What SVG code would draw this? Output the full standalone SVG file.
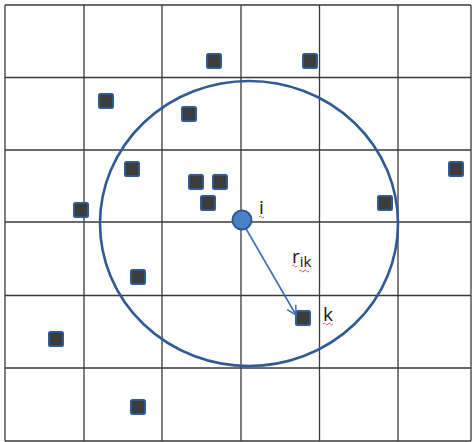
<svg xmlns="http://www.w3.org/2000/svg" width="474" height="442" viewBox="0 0 474 442">
<defs>
<style>
.grid line{stroke:#3a3a3a;stroke-width:1.3}
.pt rect{fill:#3c3c3c;stroke:#2f5a94;stroke-width:2}
.lbl{font-family:"Open Sans","Liberation Sans",sans-serif;fill:#111}
.sq{fill:none;stroke:#e03030;stroke-width:0.8}
</style>
<marker id="ah" markerWidth="12" markerHeight="12" refX="10" refY="6" orient="auto" markerUnits="userSpaceOnUse">
<path d="M1,1 L10,6 L1,11" fill="none" stroke="#3d70b3" stroke-width="1.5"/>
</marker>
</defs>
<rect width="474" height="442" fill="#fff"/>
<g class="grid">
<line x1="5" y1="5" x2="5" y2="441"/>
<line x1="84" y1="5" x2="84" y2="441"/>
<line x1="162" y1="5" x2="162" y2="441"/>
<line x1="241" y1="5" x2="241" y2="441"/>
<line x1="319.5" y1="5" x2="319.5" y2="441"/>
<line x1="398" y1="5" x2="398" y2="441"/>
<line x1="471" y1="5" x2="471" y2="441"/>
<line x1="5" y1="5" x2="471" y2="5"/>
<line x1="5" y1="77.5" x2="471" y2="77.5"/>
<line x1="5" y1="150" x2="471" y2="150"/>
<line x1="5" y1="222" x2="471" y2="222"/>
<line x1="5" y1="295.5" x2="471" y2="295.5"/>
<line x1="5" y1="368" x2="471" y2="368"/>
<line x1="5" y1="441" x2="471" y2="441"/>
</g>
<g id="cutoff">
<ellipse cx="249" cy="223.5" rx="149" ry="142.5" fill="none" stroke="#2f5a94" stroke-width="2.6"/>
</g>
<g id="points" class="pt">
<rect x="207" y="54" width="14" height="14" rx="1.5"/>
<rect x="303" y="54" width="14" height="14" rx="1.5"/>
<rect x="99" y="94" width="14" height="14" rx="1.5"/>
<rect x="182" y="107" width="14" height="14" rx="1.5"/>
<rect x="125" y="162" width="14" height="14" rx="1.5"/>
<rect x="189" y="175" width="14" height="14" rx="1.5"/>
<rect x="213" y="175" width="14" height="14" rx="1.5"/>
<rect x="201" y="196" width="14" height="14" rx="1.5"/>
<rect x="74" y="203" width="14" height="14" rx="1.5"/>
<rect x="449" y="162" width="14" height="14" rx="1.5"/>
<rect x="378" y="196" width="14" height="14" rx="1.5"/>
<rect x="131" y="270" width="14" height="14" rx="1.5"/>
<rect x="49" y="332" width="14" height="14" rx="1.5"/>
<rect x="131" y="400" width="14" height="14" rx="1.5"/>
</g>
<g id="node-k" class="pt">
<rect x="296" y="311" width="14" height="14" rx="1.5"/>
<text class="lbl" x="323" y="321" font-size="19">k</text>
<path class="sq" d="M323,324 q1.25,-2 2.5,0 t2.5,0 t2.5,0 t2.5,0"/>
</g>
<g id="connectors">
<line x1="245" y1="227" x2="296" y2="315" stroke="#3d70b3" stroke-width="1.6" marker-end="url(#ah)"/>
</g>
<g id="node-i">
<circle cx="242" cy="220" r="9.5" fill="#4a80c8" stroke="#2f5a94" stroke-width="2"/>
<text class="lbl" x="259" y="214" font-size="19">i</text>
<path class="sq" d="M259,217 q1.25,-2 2.5,0 t2.5,0"/>
</g>
<g id="label-rik">
<text class="lbl" x="292" y="263" font-size="19">r<tspan font-size="15" dy="4">ik</tspan></text>
<path class="sq" d="M292,266 q1.25,-2 2.5,0 t2.5,0"/>
<path class="sq" d="M299,271 q1.25,-2 2.5,0 t2.5,0 t2.5,0 t2.5,0"/>
</g>
</svg>
